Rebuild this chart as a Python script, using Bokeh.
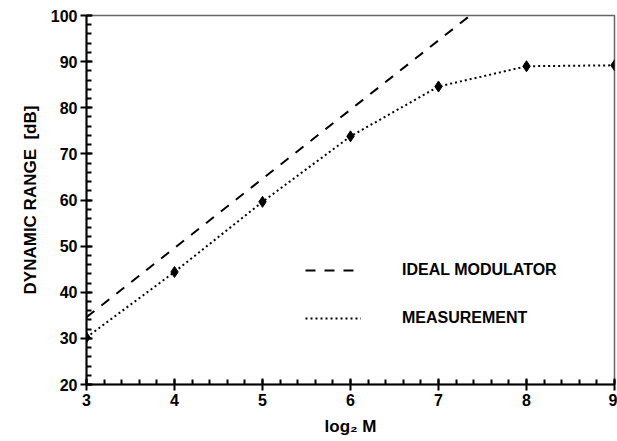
from bokeh.plotting import figure
from bokeh.models import Range1d, Legend, LegendItem, SingleIntervalTicker
from bokeh.embed import file_html
from bokeh.resources import INLINE

log2_m = [3, 4, 5, 6, 7, 8, 9]
measured_db = [30.2, 44.4, 59.6, 73.8, 84.6, 89.0, 89.2]
ideal_x = [3, 9]
ideal_db = [34.6, 124.6]

FONT = "Liberation Sans"

p = figure(width=617, height=441, output_backend="svg", toolbar_location=None,
           x_range=Range1d(3, 9), y_range=Range1d(20, 100),
           min_border_left=86, min_border_right=3, min_border_top=15, min_border_bottom=57)
p.xgrid.visible = False
p.ygrid.visible = False
p.background_fill_color = "white"
p.border_fill_color = "white"
p.outline_line_color = "#666666"
p.outline_line_width = 1.5

r_ideal = p.line(ideal_x, ideal_db, line_color="black", line_width=2, line_dash="10 9")
r_meas = p.line(log2_m, measured_db, line_color="black", line_width=2, line_dash="2 3")
p.scatter(log2_m, measured_db, marker="diamond", size=11, color="black")

xax = p.xaxis[0]
yax = p.yaxis[0]
xax.ticker = SingleIntervalTicker(interval=1, num_minor_ticks=5)
yax.ticker = SingleIntervalTicker(interval=10, num_minor_ticks=5)

for ax in (xax, yax):
    ax.axis_line_color = "black"
    ax.axis_line_width = 2
    ax.major_tick_line_color = "black"
    ax.major_tick_line_width = 2
    ax.minor_tick_line_color = "black"
    ax.minor_tick_line_width = 2
    ax.major_tick_in = 6
    ax.major_tick_out = 6
    ax.minor_tick_in = 5
    ax.minor_tick_out = 0
    ax.major_label_text_font = FONT
    ax.major_label_text_font_style = "bold"
    ax.major_label_text_font_size = "16px"
    ax.major_label_text_color = "black"
    ax.axis_label_text_font = FONT
    ax.axis_label_text_font_style = "bold"
    ax.axis_label_text_color = "black"

xax.major_label_standoff = 3
yax.major_label_standoff = 3
xax.axis_label = "log\u2082 M"
xax.axis_label_text_font_size = "17px"
xax.axis_label_standoff = 8
yax.axis_label = "DYNAMIC RANGE\u00a0\u00a0[dB]"
yax.axis_label_text_font_size = "17px"
yax.axis_label_standoff = 8

legend = Legend(items=[LegendItem(label="IDEAL MODULATOR", renderers=[r_ideal]),
                       LegendItem(label="MEASUREMENT", renderers=[r_meas])],
                location=(219, 56), padding=0, margin=0, spacing=28,
                glyph_width=56, glyph_height=20, label_standoff=41,
                background_fill_alpha=0, border_line_alpha=0,
                label_text_font=FONT, label_text_font_style="bold",
                label_text_font_size="16px", label_text_color="black")
p.add_layout(legend)

open("out.html", "w").write(file_html(p, INLINE))
